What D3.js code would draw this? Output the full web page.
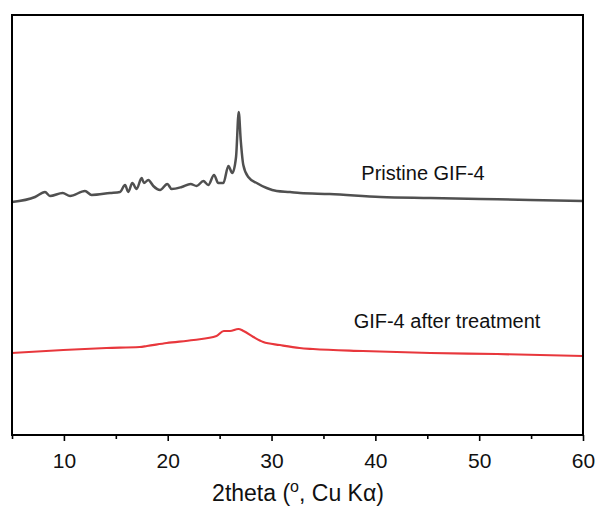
<!DOCTYPE html>
<html>
<head>
<meta charset="utf-8">
<script src="https://cdn.jsdelivr.net/npm/d3@7"></script>
<style>
  body { margin: 0; background: #fff; }
  text { font-family: "Liberation Sans", Arial, sans-serif; }
</style>
</head>
<body>
<div id="chart-area"></div>
<script>
// 2theta (deg) and intensity (a.u.)
var pristineX = [5, 7.22, 8.18, 8.66, 9.88, 10.59, 12.03, 12.67, 14.44, 15.4, 15.89, 16.2, 16.59, 17.0, 17.49, 17.71, 18.13, 18.61, 19.26, 19.96, 20.38, 21.35, 22.2, 22.79, 23.43, 23.91, 24.46, 24.87, 25.36, 25.84, 26.22, 26.58, 26.84, 27.03, 27.28, 27.76, 28.57, 29.53, 30.5, 31.78, 32.74, 35.6, 40.5, 45.3, 50.1, 54.9, 60];
var pristineY = [233, 238, 243, 239, 242, 239, 244, 240, 242, 243, 250, 243, 252, 246, 257, 252, 255, 249, 245, 251, 246, 248, 251, 249, 254, 250, 260, 252, 252, 269, 262, 278, 323, 295, 270, 258, 252, 247, 244, 243, 242, 241, 238, 237, 236, 235, 234];

var treatedX = [5, 9.94, 14.1, 17.3, 18.0, 19.9, 22.5, 24.7, 25.4, 26.0, 26.8, 27.3, 28.25, 29.2, 30.8, 32.7, 34.0, 38.8, 45.3, 51.7, 60];
var treatedY = [82, 85, 87, 88, 89, 92, 95, 99, 104, 104, 106, 104, 98, 93, 90, 87, 86, 84, 82, 81, 79];

var majorTicks = [10, 20, 30, 40, 50, 60];
var minorTicks = [5, 15, 25, 35, 45, 55];

var margin = {top: 15, right: 18, bottom: 73, left: 12};
var width = 571;
var height = 420;

var svg = d3.select("#chart-area").append("svg").attr("width", 601).attr("height", 508);
var g = svg.append("g").attr("transform", "translate(" + margin.left + ", " + margin.top + ")");

var x = d3.scaleLinear().domain([5, 60]).range([0, width]);
var y = d3.scaleLinear().domain([0, 420]).range([height, 0]);

var line = d3.line().x((d) => { return x(d[0]); }).y((d) => { return y(d[1]); }).curve(d3.curveMonotoneX);

var pristine = d3.zip(pristineX, pristineY);
var treated = d3.zip(treatedX, treatedY);

g.append("path").datum(pristine).attr("d", line).attr("fill", "none").attr("stroke", "#505050").attr("stroke-width", 2.5);
g.append("path").datum(treated).attr("d", line).attr("fill", "none").attr("stroke", "#e8373c").attr("stroke-width", 2.2);

// minor ticks first, then major axis
g.append("g").attr("class", "minor axis").attr("transform", "translate(0, " + height + ")")
  .call(d3.axisBottom(x).tickValues(minorTicks).tickSize(4).tickSizeOuter(0).tickFormat(""))
  .call((a) => { a.select(".domain").remove(); a.selectAll("line").attr("stroke-width", 1.6); });

var bottomAxis = d3.axisBottom(x).tickValues(majorTicks).tickSize(6).tickSizeOuter(0).tickPadding(12);
g.append("g").attr("class", "bottom axis").attr("transform", "translate(0, " + height + ")").call(bottomAxis)
  .call((a) => { a.select(".domain").remove(); a.selectAll("line").attr("stroke-width", 1.6); })
  .selectAll("text").attr("font-size", "21px").attr("fill", "#111")
  .style("font-family", "'Liberation Sans', Arial, sans-serif");

// frame
g.append("rect").attr("x", 0).attr("y", 0).attr("width", width).attr("height", height)
  .attr("fill", "none").attr("stroke", "#000").attr("stroke-width", 2);

g.append("text").attr("x", 423 - margin.left).attr("y", 180 - margin.top).attr("font-size", "20px")
  .attr("text-anchor", "middle").attr("fill", "#111").text("Pristine GIF-4");

g.append("text").attr("x", 447 - margin.left).attr("y", 328 - margin.top).attr("font-size", "20px")
  .attr("text-anchor", "middle").attr("fill", "#111").text("GIF-4 after treatment");

var title = g.append("text").attr("x", 298 - margin.left).attr("y", 501 - margin.top).attr("font-size", "23px")
  .attr("text-anchor", "middle").attr("fill", "#111");
title.append("tspan").text("2theta (");
title.append("tspan").attr("font-size", "16px").attr("dy", -9).text("o");
title.append("tspan").attr("dy", 9).text(", Cu K\u03b1)");
</script>
</body>
</html>
